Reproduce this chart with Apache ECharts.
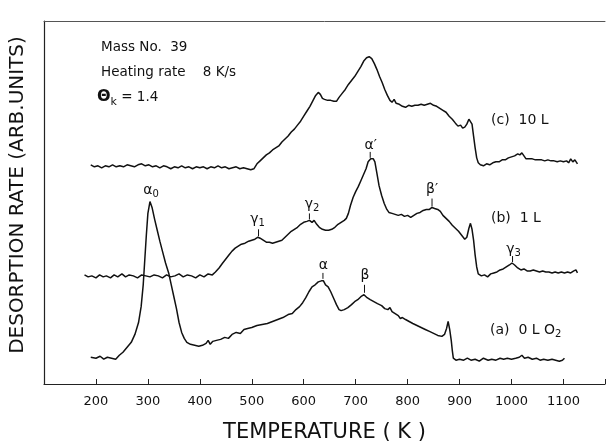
<!DOCTYPE html>
<html><head><meta charset="utf-8">
<script src="https://cdn.jsdelivr.net/npm/echarts@6/dist/echarts.min.js"></script>
<style>html,body{margin:0;padding:0;background:#fff}#c{width:608px;height:448px}</style>
</head><body><div id="c"></div>
<script>
// Temperature (K) vs desorption rate (arb. units, curves offset vertically)
const curveA = [[190,27],[200,26],[208,28],[215,25],[222,27],[230,26],[238,25],[245,29],[252,32],[260,37],[268,42],[275,50],[282,62],[287,78],[291,100],[294,125],[297,150],[300,172],[304,184],[308,178],[313,166],[318,155],[323,144],[328,134],[334,122],[340,112],[345,100],[350,88],[355,76],[360,62],[365,52],[370,46],[375,42],[382,40],[390,39],[398,38],[405,39],[412,41],[416,44],[420,40],[425,43],[432,44],[440,45],[448,47],[455,46],[462,50],[470,52],[478,51],[485,55],[492,56],[500,57],[510,59],[520,60],[530,61],[540,63],[550,65],[560,67],[570,70],[578,71],[585,75],[592,78],[598,82],[604,87],[610,93],[616,98],[622,100],[628,103],[634,104],[638,104],[642,100],[647,98],[652,93],[658,86],[663,80],[668,75],[672,74],[678,75],[685,77],[692,80],[698,83],[704,85],[710,88],[716,90],[722,87],[728,85],[735,83],[742,81],[750,79],[756,76],[762,75],[766,77],[770,73],[776,71],[782,69],[786,66],[790,67],[796,65],[803,63],[810,61],[818,59],[826,57],[834,55],[842,53],[850,51],[858,49],[866,48],[871,50],[875,56],[878,63],[881,55],[884,44],[886,34],[888,26],[893,24],[900,25],[908,24],[915,26],[922,24],[930,25],[938,23],[946,26],[955,24],[962,25],[970,24],[978,26],[985,25],[992,26],[1000,25],[1008,26],[1015,27],[1020,29],[1025,26],[1032,27],[1040,25],[1048,26],[1055,24],[1062,25],[1070,24],[1078,25],[1085,24],[1092,23],[1098,24],[1102,26]];
const curveB = [[178,110],[185,108],[192,109],[200,107],[207,110],[214,108],[220,109],[228,107],[235,110],[242,108],[250,111],[257,108],[264,110],[272,109],[280,107],[288,110],[296,109],[304,108],[312,110],[320,109],[328,107],[336,110],[344,108],[352,109],[360,111],[368,108],[376,110],[384,109],[392,107],[400,110],[408,108],[416,111],[424,110],[430,113],[437,117],[444,122],[450,126],[456,130],[462,134],[468,137],[474,139],[480,141],[487,142],[494,144],[500,145],[506,146],[512,148],[516,147],[522,145],[528,143],[534,143],[540,142],[546,143],[552,144],[558,145],[564,148],[570,151],[576,154],[582,156],[588,158],[594,161],[600,163],[606,164],[611,165],[616,163],[620,165],[625,161],[630,158],[636,156],[642,155],[648,155],[654,156],[660,158],[666,161],[672,163],[678,165],[682,167],[686,172],[690,180],[695,188],[700,194],[705,199],[710,205],[715,211],[720,217],[724,224],[729,227],[734,227],[737,224],[741,212],[745,200],[750,190],[755,182],[760,176],[764,173],[770,172],[776,171],[782,170],[788,171],[794,169],[800,170],[806,168],[812,170],[818,172],[824,173],[830,175],[836,176],[842,176],[847,178],[852,177],[858,176],[863,174],[868,170],[874,167],[880,164],[886,160],[892,157],[898,154],[904,150],[910,146],[914,148],[918,157],[921,162],[924,156],[927,145],[930,130],[933,118],[936,111],[942,109],[948,110],[954,108],[960,111],[966,112],[972,113],[978,115],[984,116],[990,118],[996,120],[1001,122],[1006,120],[1012,117],[1018,115],[1024,116],[1030,114],[1036,114],[1042,115],[1048,114],[1054,113],[1060,114],[1066,113],[1072,113],[1078,112],[1084,113],[1090,112],[1096,113],[1102,112],[1108,113],[1114,112],[1120,114],[1124,115],[1127,112]];
const curveC = [[190,221],[197,219],[204,220],[211,218],[218,220],[225,219],[232,221],[239,219],[246,220],[253,219],[260,221],[267,220],[274,219],[281,221],[288,222],[295,220],[302,221],[309,219],[316,220],[323,218],[330,220],[337,219],[344,217],[351,219],[358,218],[365,220],[372,218],[379,219],[386,217],[393,219],[400,218],[407,219],[414,217],[421,219],[428,218],[435,220],[442,218],[449,219],[456,217],[463,218],[470,219],[477,217],[484,218],[491,217],[498,216],[504,217],[510,222],[516,225],[522,228],[528,231],[534,233],[540,236],[546,238],[552,240],[558,244],[564,247],[570,250],[576,254],[582,257],[588,261],[594,265],[600,270],[606,275],[612,280],[618,286],[623,291],[628,294],[632,292],[636,288],[640,287],[646,286],[652,286],[658,285],[663,285],[668,289],[674,293],[680,297],[686,302],[692,306],[698,310],[704,315],[710,320],[716,326],[721,329],[726,330],[731,328],[736,323],[741,317],[746,310],[751,304],[756,297],[761,291],[766,286],[770,284],[774,287],[778,283],[784,282],[790,280],[796,279],[802,281],[808,280],[814,281],[820,281],[826,282],[832,281],[838,282],[844,283],[850,281],[856,280],[862,278],[868,276],[874,274],[880,270],[886,267],[892,263],[897,260],[902,261],[906,258],[910,259],[914,262],[918,267],[921,269],[924,262],[927,250],[930,238],[933,228],[936,223],[940,221],[946,220],[952,222],[958,221],[964,223],[970,224],[976,224],[982,226],[988,226],[994,228],[1000,229],[1006,230],[1012,232],[1016,231],[1020,233],[1024,230],[1028,227],[1034,227],[1040,227],[1046,226],[1052,226],[1058,226],[1064,225],[1070,226],[1076,225],[1082,225],[1088,224],[1094,225],[1100,224],[1106,225],[1110,223],[1114,227],[1118,224],[1122,226],[1127,222]];
const xTicks = [200,300,400,500,600,700,800,900,1000,1100];
const seriesNames = ['(a) 0 L O2','(b) 1 L','(c) 10 L'];
// peak labels: [rich text, K, value of label centre, K of tick, tick top value, tick bottom value]
const peakLabels = [
  ['{g|α}{s|0}', 306, 195, null, 0, 0],
  ['{g|γ}{s|1}', 511, 166, 513, 156, 149],
  ['{g|γ}{s|2}', 616, 181, 611, 172, 166],
  ['{g|α′}', 729, 241, 728, 234, 228],
  ['{g|β′}', 847, 196, 847, 187, 179],
  ['{g|γ}{s|3}', 1004, 136, 1002, 129, 123],
  ['{g|α}', 638, 120, 637, 112, 106],
  ['{g|β}', 718, 110, 717, 100, 92]
];
const info = ['Mass No.  39', 'Heating rate    8 K/s'];

const FONT = '"DejaVu Sans", sans-serif';
const chart = echarts.init(document.getElementById('c'), null, {renderer:'canvas'});
const lineStyle = {color:'#111', width:1.5};
chart.setOption({
  animation:false,
  backgroundColor:'#fff',
  grid:{left:44, right:0, top:21, bottom:61},
  xAxis:[{
    type:'value', min:100, max:1180, interval:100,
    axisLine:{lineStyle:{color:'#222', width:1.2}},
    axisTick:{inside:true, length:5, lineStyle:{color:'#222'}},
    splitLine:{show:false},
    axisLabel:{margin:11, fontFamily:FONT, fontSize:13, color:'#111',
      formatter:v => xTicks.indexOf(v) >= 0 ? String(v) : ''},
    name:'TEMPERATURE ( K )', nameLocation:'middle', nameGap:38,
    nameTextStyle:{fontFamily:FONT, fontSize:21, color:'#111'}
  },{
    type:'value', position:'top', min:100, max:1180,
    axisLine:{show:true, lineStyle:{color:'#555', width:1}},
    axisTick:{show:false}, axisLabel:{show:false}, splitLine:{show:false}
  }],
  yAxis:{type:'value', min:0, max:366,
    axisLine:{show:true, lineStyle:{color:'#222', width:1.2}},
    axisTick:{show:false}, axisLabel:{show:false}, splitLine:{show:false}},
  series:[curveA, curveB, curveC].map((d,i)=>({
    name:seriesNames[i], type:'line', data:d, showSymbol:false, symbol:'none',
    lineStyle:lineStyle, xAxisIndex:0
  }))
});

const px = (k,v) => chart.convertToPixel({xAxisIndex:0, yAxisIndex:0}, [k,v]);
const rich = {g:{fontFamily:FONT, fontSize:14, fill:'#111'}, s:{fontFamily:FONT, fontSize:10, fill:'#111', padding:[8,0,0,0]}};
const g = [];
g.push({type:'text', x:18, y:195, rotation:Math.PI/2, style:{text:'DESORPTION RATE (ARB.UNITS)', fontFamily:FONT, fontSize:20, fill:'#111', textAlign:'center', textVerticalAlign:'middle'}});
g.push({type:'text', x:101, y:47, style:{text:info[0], fontFamily:FONT, fontSize:13.5, fill:'#111', textVerticalAlign:'middle'}});
g.push({type:'text', x:101, y:72, style:{text:info[1], fontFamily:FONT, fontSize:13.5, fill:'#111', textVerticalAlign:'middle'}});
g.push({type:'text', x:97, y:97, style:{text:'{t|Θ}{s|k}{n| = 1.4}', fontFamily:FONT, textVerticalAlign:'middle',
  rich:{t:{fontFamily:FONT, fontSize:16, fontWeight:'bold', fill:'#111'}, s:{fontFamily:FONT, fontSize:11, fill:'#111', padding:[10,0,0,0]}, n:{fontFamily:FONT, fontSize:13.5, fill:'#111'}}}});
// curve labels
const curveLabelPos = [[490,330],[491,218],[491,120]];
const curveLabelText = ['(a)  0 L O{s|2}','(b)  1 L','(c)  10 L'];
curveLabelText.forEach((t,i)=>{
  g.push({type:'text', x:curveLabelPos[i][0], y:curveLabelPos[i][1], style:{text:t, fontFamily:FONT, fontSize:14, fill:'#111', textVerticalAlign:'middle',
    rich:{s:{fontFamily:FONT, fontSize:10, fill:'#111', padding:[9,0,0,0]}}}});
});
peakLabels.forEach(p=>{
  const c = px(p[1], p[2]);
  g.push({type:'text', x:c[0], y:c[1], style:{text:p[0], rich:rich, textAlign:'center', textVerticalAlign:'middle'}});
  if (p[3] !== null) {
    const a = px(p[3], p[4]), b = px(p[3], p[5]);
    g.push({type:'line', shape:{x1:a[0], y1:a[1], x2:b[0], y2:b[1]}, style:{stroke:'#111', lineWidth:1}});
  }
});
chart.setOption({graphic:g});
</script></body></html>
